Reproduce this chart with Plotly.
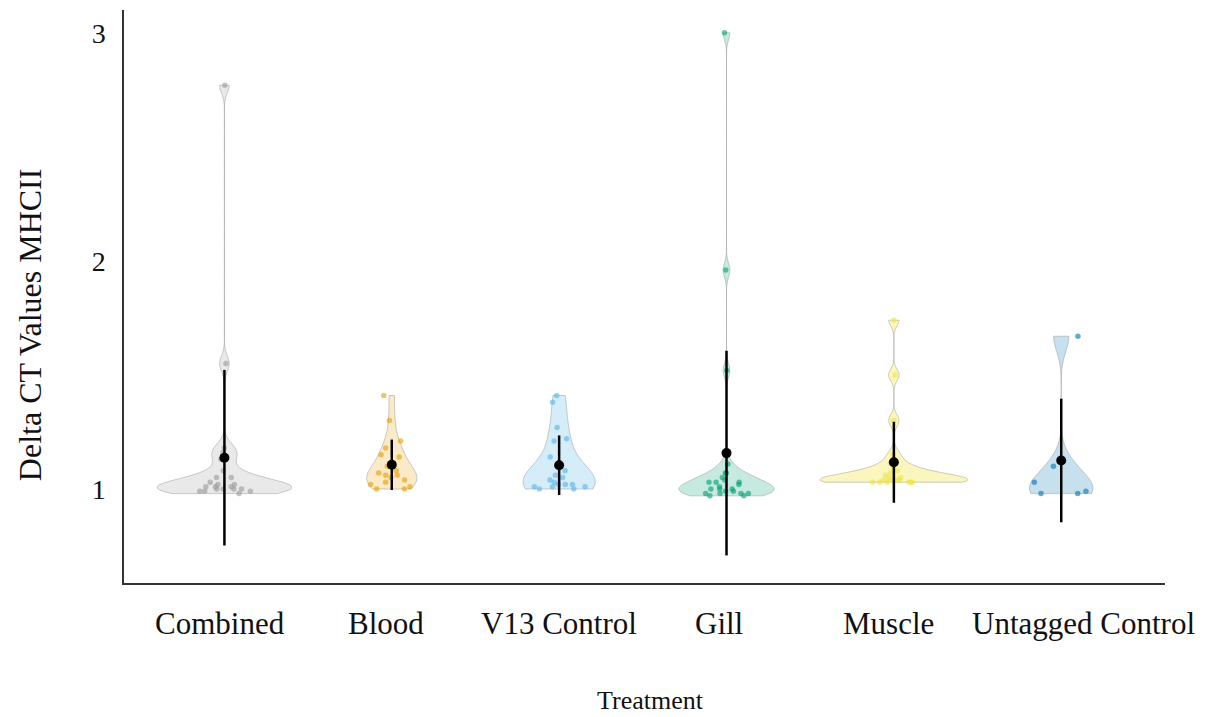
import numpy as np
import plotly.graph_objects as go

categories = ["Combined", "Blood", "V13 Control", "Gill", "Muscle", "Untagged Control"]

combined = [2.77, 1.55, 1.18, 1.16, 1.13, 1.08, 1.05, 1.05, 1.03, 1.02, 1.01,
            1.01, 1.00, 1.00, 1.00, 0.99, 0.99, 0.98, 1.00, 1.02, 1.01, 0.99]
blood = [1.41, 1.30, 1.21, 1.18, 1.15, 1.14, 1.04, 1.10, 1.08, 1.07, 1.05,
         1.03, 1.02, 1.01, 1.00, 1.00, 1.06, 1.06]
v13_control = [1.41, 1.38, 1.27, 1.22, 1.21, 1.14, 1.08, 1.06, 1.05, 1.03,
               1.02, 1.02, 1.01, 1.01, 1.02, 1.04, 1.01, 1.00, 1.00]
gill = [3.00, 1.96, 1.52, 1.11, 1.07, 1.07, 1.05, 1.03, 1.03, 1.04, 1.02, 1.01,
        1.00, 0.99, 0.98, 0.98, 0.97, 0.97, 0.98, 1.00, 1.03, 0.99, 0.98, 1.00]
muscle = [1.74, 1.50, 1.30, 1.15, 1.11, 1.09, 1.08, 1.07, 1.06, 1.05, 1.04,
          1.04, 1.03, 1.03, 1.03, 1.04, 1.05, 1.03, 1.04, 1.03, 1.03, 1.04]
untagged_control = [1.67, 1.10, 1.03, 0.99, 0.98, 0.98]

series = [combined, blood, v13_control, gill, muscle, untagged_control]

# styles
point_colors = ["#9a9a9a", "#E69F00", "#56B4E9", "#009E73", "#F0E442", "#0072B2"]
fill_colors = ["rgba(153,153,153,0.22)", "rgba(230,159,0,0.22)", "rgba(86,180,233,0.25)",
               "rgba(0,158,115,0.22)", "rgba(240,228,66,0.35)", "rgba(0,114,178,0.22)"]
violin_widths = [0.80, 0.30, 0.43, 0.57, 0.88, 0.38]
label_shifts = [-4, -6, 0, -8, -5, 22]   # horizontal nudges (px) of the category labels
FONT = "Liberation Serif, Times New Roman, serif"

fig = go.Figure()
for cat, vals, pc, fc, w in zip(categories, series, point_colors, fill_colors, violin_widths):
    fig.add_trace(go.Violin(
        x=[cat] * len(vals), y=vals, name=cat, width=w, scalemode="width",
        spanmode="hard", fillcolor=fc,
        line=dict(color="rgba(150,150,150,0.6)", width=0.8),
        points="all", pointpos=0, jitter=min(1.0, 0.40 / w),
        marker=dict(color=pc, size=5.5, opacity=0.6),
        box_visible=False, meanline_visible=False, showlegend=False,
    ))

means = [float(np.mean(v)) for v in series]
sds = [float(np.std(v, ddof=1)) for v in series]
fig.add_trace(go.Scatter(
    x=categories, y=means, mode="markers",
    marker=dict(color="black", size=10),
    error_y=dict(type="data", array=sds, color="black", thickness=2.5, width=0),
    showlegend=False,
))

# category labels
for cat, dx in zip(categories, label_shifts):
    fig.add_annotation(
        text=cat, x=cat, xref="x", y=0, yref="paper",
        xanchor="center", yanchor="middle", xshift=dx, yshift=-40,
        showarrow=False, font=dict(size=31, family=FONT, color="#111"),
    )

# axis titles
fig.add_annotation(
    text="Treatment", xref="paper", yref="paper", x=0.5, y=0,
    xanchor="center", yanchor="middle", xshift=6, yshift=-117,
    showarrow=False, font=dict(size=26, family=FONT, color="#111"),
)
fig.add_annotation(
    text="Delta CT Values MHCII", textangle=-90,
    xref="paper", yref="paper", x=0, y=0.45, xanchor="center", yanchor="middle",
    xshift=-94, showarrow=False, font=dict(size=32, family=FONT, color="#111"),
)

fig.update_layout(
    width=1199, height=709,
    margin=dict(l=116, r=42, t=2, b=134),
    plot_bgcolor="white", paper_bgcolor="white",
    violinmode="overlay",
    font=dict(family=FONT, color="#111"),
    xaxis=dict(
        type="category", categoryorder="array", categoryarray=categories,
        range=[-0.6, 5.62], showline=True, linecolor="#333", linewidth=1.5,
        showgrid=False, zeroline=False, ticks="", automargin=False,
        showticklabels=False,
    ),
    yaxis=dict(
        range=[0.588, 3.10], tickvals=[1, 2, 3], ticktext=["1", "2", "3"],
        showline=True, linecolor="#333", linewidth=1.5, automargin=False,
        showgrid=False, zeroline=False, ticks="",
        tickfont=dict(size=28, family=FONT), ticklabelstandoff=11,
    ),
)

fig.write_html("out.html")
